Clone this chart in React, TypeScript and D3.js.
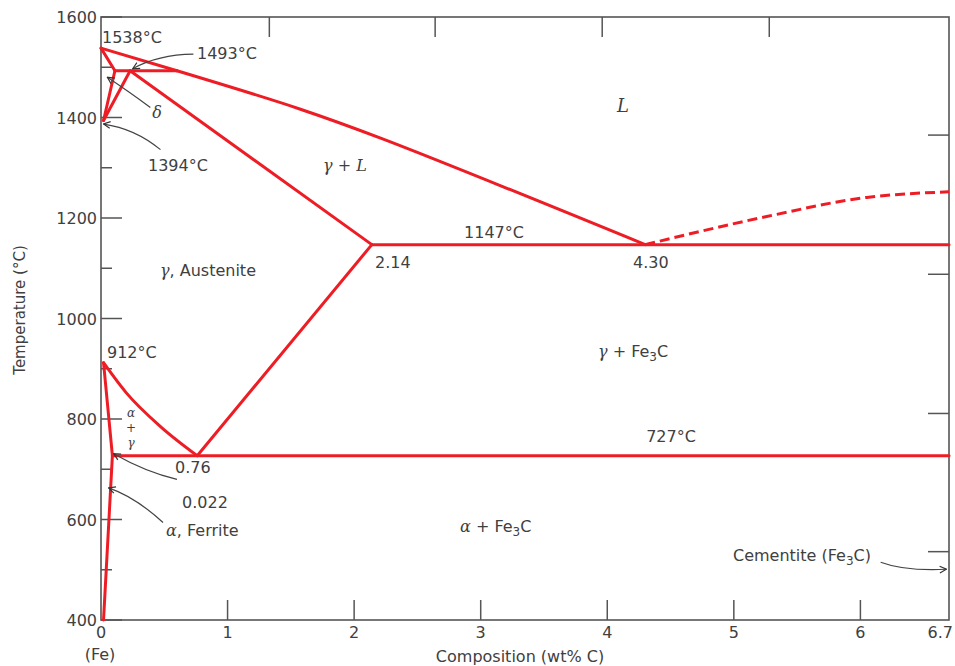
import React from "react";
import * as d3 from "d3";

// ---- axis data ----
const yMajorTicks = [400, 600, 800, 1000, 1200, 1400, 1600];
const yMinorTicks = [500, 700, 900, 1100, 1300, 1500];
const xTickValues = [1, 2, 3, 4, 5, 6];
const xLabelValues = [0, 1, 2, 3, 4, 5, 6, 6.7];
const xLabelTexts = ["0", "1", "2", "3", "4", "5", "6", "6.7"];
const topTickValues = [1.33, 2.64, 3.96, 5.28];
const rightTickValues = [1365, 1088, 811, 536];

// ---- phase boundaries: [wt% C, °C] ----
const liquidusDelta: [number, number][] = [[0, 1538], [0.6, 1493]];
const liquidusGamma: [number, number][] = [[0.6, 1493], [1.57, 1417], [2.23, 1357], [4.3, 1147]];
const deltaSolidus: [number, number][] = [[0, 1538], [0.11, 1493]];
const deltaSolvus: [number, number][] = [[0.11, 1493], [0.02, 1394]];
const gammaDeltaBoundary: [number, number][] = [[0.23, 1493], [0.02, 1394]];
const peritectic: [number, number][] = [[0.11, 1493], [0.6, 1493]];
const gammaSolidus: [number, number][] = [[0.23, 1493], [2.14, 1147]];
const eutectic: [number, number][] = [[2.14, 1147], [6.7, 1147]];
const acmLine: [number, number][] = [[0.76, 727], [2.14, 1147]];
const a3Line: [number, number][] = [[0.02, 912], [0.2, 852], [0.47, 785], [0.76, 727]];
const alphaBoundary: [number, number][] = [[0.02, 912], [0.09, 727]];
const alphaSolvus: [number, number][] = [[0.09, 727], [0.02, 400]];
const eutectoid: [number, number][] = [[0.09, 727], [6.7, 727]];
const cementiteLiquidus: [number, number][] = [[4.3, 1147], [5.26, 1203], [6.05, 1241], [6.7, 1252]];

const straightLines = [liquidusDelta, deltaSolidus, deltaSolvus, gammaDeltaBoundary, peritectic, gammaSolidus, eutectic, acmLine, alphaBoundary, alphaSolvus, eutectoid];

// ---- annotation arrows: [from, control, to] in [wt%, °C] ----
const arrows: [number, number][][] = [
  [[0.73, 1526], [0.45, 1525], [0.25, 1497]],
  [[0.39, 1420], [0.2, 1455], [0.05, 1480]],
  [[0.47, 1336], [0.27, 1378], [0.02, 1387]],
  [[0.6, 680], [0.35, 695], [0.1, 731]],
  [[0.49, 594], [0.27, 645], [0.06, 663]],
  [[6.16, 515], [6.35, 497], [6.68, 501]],
];

const W = 955;
const H = 666;
const RED = "#ee1d25";
const AXIS = "#555";
const TXT = "#404040";
const SANS = "'DejaVu Sans', sans-serif";
const SERIF = "'DejaVu Serif', 'Liberation Serif', serif";

export default function App() {
  const x = d3.scaleLinear().domain([0, 6.7]).range([101, 949]);
  const y = d3.scaleLinear().domain([400, 1600]).range([620, 17]);
  const line = d3.line<[number, number]>().x((d) => x(d[0])).y((d) => y(d[1]));
  const curve = d3.line<[number, number]>().x((d) => x(d[0])).y((d) => y(d[1])).curve(d3.curveMonotoneX);
  const curveCR = d3.line<[number, number]>().x((d) => x(d[0])).y((d) => y(d[1])).curve(d3.curveCatmullRom);
  const arrowPath = (a: [number, number][]) => {
    const p = d3.path();
    p.moveTo(x(a[0][0]), y(a[0][1]));
    p.quadraticCurveTo(x(a[1][0]), y(a[1][1]), x(a[2][0]), y(a[2][1]));
    return p.toString();
  };
  const left = x(0), right = x(6.7), top = y(1600), bottom = y(400);
  const fs = 16;
  const sub = (base: string) => (
    <>
      {base}
      <tspan fontSize={12} dy={4}>3</tspan>
      <tspan dy={-4}>C</tspan>
    </>
  );

  return (
    <svg width={W} height={H} style={{ position: "absolute", left: 0, top: 0, background: "#fff" }} fontFamily={SANS}>
      <defs>
        <marker id="arr" viewBox="0 0 10 10" refX="9" refY="5" markerWidth="7" markerHeight="7" orient="auto">
          <path d="M1,1 L9,5 L1,9" fill="none" stroke="#333" strokeWidth={1.4} />
        </marker>
      </defs>
      <rect width={W} height={H} fill="#fff" />

      {/* frame */}
      <rect x={left} y={top} width={right - left} height={bottom - top} fill="none" stroke={AXIS} strokeWidth={1.6} />

      {/* left ticks */}
      {yMajorTicks.map((t) => (
        <line key={"ym" + t} x1={left} x2={left + 21} y1={y(t)} y2={y(t)} stroke={AXIS} strokeWidth={1.5} />
      ))}
      {yMinorTicks.map((t) => (
        <line key={"yn" + t} x1={left} x2={left + 11} y1={y(t)} y2={y(t)} stroke={AXIS} strokeWidth={1.5} />
      ))}
      {yMajorTicks.map((t) => (
        <text key={"yl" + t} x={97} y={y(t)} dy={6} textAnchor="end" fontSize={fs} fill={TXT}>{t}</text>
      ))}
      {/* right ticks */}
      {rightTickValues.map((t) => (
        <line key={"rt" + t} x1={right - 21} x2={right} y1={y(t)} y2={y(t)} stroke={AXIS} strokeWidth={1.5} />
      ))}
      {/* bottom ticks */}
      {xTickValues.map((t) => (
        <line key={"xt" + t} x1={x(t)} x2={x(t)} y1={bottom} y2={bottom - 20} stroke={AXIS} strokeWidth={1.5} />
      ))}
      {/* top ticks */}
      {topTickValues.map((t) => (
        <line key={"tt" + t} x1={x(t)} x2={x(t)} y1={top} y2={top + 20} stroke={AXIS} strokeWidth={1.5} />
      ))}
      {xLabelValues.map((t, i) => (
        <text key={"xl" + t} x={i === xLabelValues.length - 1 ? x(t) + 4 : x(t)} y={638} textAnchor={i === xLabelValues.length - 1 ? "end" : "middle"} fontSize={fs} fill={TXT}>{xLabelTexts[i]}</text>
      ))}
      <text x={100} y={660} textAnchor="middle" fontSize={fs} fill={TXT}>(Fe)</text>
      <text x={520} y={662} textAnchor="middle" fontSize={fs} fill={TXT}>Composition (wt% C)</text>
      <text transform={`translate(25,${310}) rotate(-90)`} textAnchor="middle" fontSize={15} fill={TXT}>Temperature (°C)</text>

      {/* phase boundaries */}
      <g fill="none" stroke={RED} strokeWidth={3} strokeLinejoin="round" strokeLinecap="round">
        {straightLines.map((l, i) => (
          <path key={"sl" + i} d={line(l) || ""} />
        ))}
        <path d={curveCR(liquidusGamma) || ""} />
        <path d={curve(a3Line) || ""} />
        <path d={curve(cementiteLiquidus) || ""} strokeDasharray="10 5" strokeLinecap="butt" />
      </g>

      {/* arrows */}
      <g fill="none" stroke="#444" strokeWidth={1.2}>
        {arrows.map((a, i) => (
          <path key={"ar" + i} d={arrowPath(a)} markerEnd="url(#arr)" />
        ))}
      </g>

      {/* labels */}
      <g fontSize={fs} fill={TXT}>
        <text x={102} y={43}>1538°C</text>
        <text x={197} y={59}>1493°C</text>
        <text x={157} y={118} textAnchor="middle" fontFamily={SERIF} fontStyle="italic">δ</text>
        <text x={148} y={171}>1394°C</text>
        <text x={623} y={112} textAnchor="middle" fontFamily={SERIF} fontStyle="italic" fontSize={18}>L</text>
        <text x={345} y={171} textAnchor="middle" fontFamily={SERIF} fontStyle="italic">γ + L</text>
        <text x={494} y={238} textAnchor="middle">1147°C</text>
        <text x={375} y={268}>2.14</text>
        <text x={633} y={268}>4.30</text>
        <text x={160} y={276}><tspan fontFamily={SERIF} fontStyle="italic">γ</tspan>, Austenite</text>
        <text x={107} y={358}>912°C</text>
        <text x={598} y={357}><tspan fontFamily={SERIF} fontStyle="italic">γ</tspan> + {sub("Fe")}</text>
        <text x={131} y={417} textAnchor="middle" fontFamily={SERIF} fontSize={12}>
          <tspan x={131} fontStyle="italic">α</tspan>
          <tspan x={131} dy={15}>+</tspan>
          <tspan x={131} dy={15} fontStyle="italic">γ</tspan>
        </text>
        <text x={671} y={442} textAnchor="middle">727°C</text>
        <text x={175} y={473}>0.76</text>
        <text x={182} y={508}>0.022</text>
        <text x={166} y={536}><tspan fontFamily={SERIF} fontStyle="italic">α</tspan>, Ferrite</text>
        <text x={460} y={532}><tspan fontFamily={SERIF} fontStyle="italic">α</tspan> + {sub("Fe")}</text>
        <text x={733} y={561}>Cementite ({sub("Fe")})</text>
      </g>
    </svg>
  );
}
